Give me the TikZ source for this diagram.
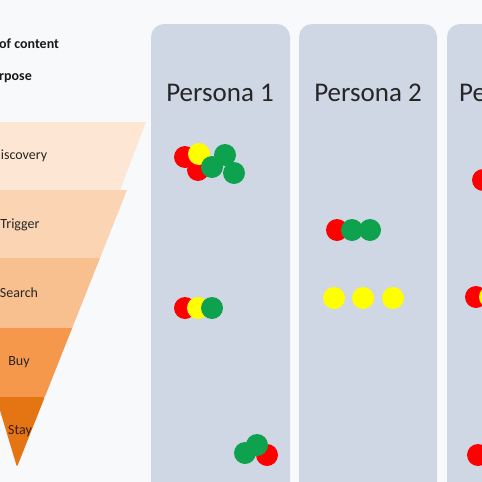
\documentclass[tikz,border=0pt]{standalone}
\usepackage{fontspec}
\setmainfont{Carlito}
\usetikzlibrary{positioning}
\definecolor{bg}{HTML}{F8F9FB}
\definecolor{lanefill}{HTML}{CFD7E4}
\definecolor{discovery}{HTML}{FDE6D3}
\definecolor{trigger}{HTML}{FBD4B3}
\definecolor{search}{HTML}{F9C08F}
\definecolor{buy}{HTML}{F6984C}
\definecolor{stay}{HTML}{E57412}
\definecolor{dotred}{HTML}{FF0000}
\definecolor{dotyellow}{HTML}{FFFF00}
\definecolor{dotgreen}{HTML}{0EA24F}
\tikzset{
    lane/.style={fill=lanefill, rounded corners=13pt},
    persona/.style={font=\fontsize{27}{31}\selectfont, text=black!85, inner sep=0pt},
    stage/.style={font=\fontsize{14}{16}\selectfont, text=black!85, inner sep=0pt},
    legend/.style={font=\bfseries\fontsize{14}{16}\selectfont, text=black!90, inner sep=0pt, anchor=west},
    dot/.style={circle, inner sep=0pt, minimum size=22pt},
    reddot/.style={dot, fill=dotred},
    yellowdot/.style={dot, fill=dotyellow},
    greendot/.style={dot, fill=dotgreen}
}

\begin{document}
\begin{tikzpicture}[x=1pt, y=-1pt]
    \useasboundingbox (0,0) rectangle (482,482);
    \clip (0,0) rectangle (482,482);
    \fill[bg] (0,0) rectangle (482,482);

    % persona lanes
    \fill[lane] (151,24) rectangle (290,520);
    \fill[lane] (299,24) rectangle (437,520);
    \fill[lane] (447,24) rectangle (600,520);

    % funnel
    \fill[discovery] (-10,122) -- (146,122) -- (120,190) -- (-10,190) -- cycle;
    \fill[trigger] (-10,190) -- (127,190) -- (100,258) -- (-10,258) -- cycle;
    \fill[search] (-10,258) -- (100,258) -- (72.2,328) -- (-10,328) -- cycle;
    \fill[buy] (-25,328) -- (72.2,328) -- (44.8,397) -- (-4,397) -- cycle;
    \fill[stay, rounded corners=2pt] (-4,397) -- (44.8,397) -- (17,467) -- cycle;

    \node[legend] (type) at (-1,44) {of content};
    \node[legend] (purpose) at (-1,78) {rpose};

    \node[stage] (disc) at (24,156) {iscovery};
    \node[stage] (trig) at (20,225) {Trigger};
    \node[stage] (sear) at (19,293) {Search};
    \node[stage] (buy) at (19,362) {Buy};
    \node[stage, text=black!75!stay] (stay) at (20,431) {Stay};

    \node[persona] (p1) at (220,93) {Persona 1};
    \node[persona] (p2) at (368,93) {Persona 2};
    \node[persona, anchor=west] (p3) at (459,93) {Pe};

    % persona 1
    \node[reddot] (p1d1) at (185,157) {};
    \node[reddot] (p1d2) at (198,170) {};
    \node[yellowdot] (p1d3) at (199,154) {};
    \node[greendot] (p1d4) at (225,155) {};
    \node[greendot] (p1d5) at (212,167) {};
    \node[greendot] (p1d6) at (234,173) {};

    \node[reddot] (p1s1) at (185,308) {};
    \node[yellowdot] (p1s2) at (198,308) {};
    \node[greendot] (p1s3) at (212,308) {};

    \node[reddot] (p1y1) at (267,455) {};
    \node[greendot] (p1y2) at (245,453) {};
    \node[greendot] (p1y3) at (257,445) {};

    % persona 2
    \node[reddot] (p2t1) at (337,230) {};
    \node[greendot] (p2t2) at (352,230) {};
    \node[greendot] (p2t3) at (370,230) {};

    \node[yellowdot] (p2s1) at (334,298) {};
    \node[yellowdot] (p2s2) at (363,298) {};
    \node[yellowdot] (p2s3) at (393,298) {};

    % persona 3
    \node[reddot] (p3d1) at (483,180) {};
    \node[reddot] (p3s1) at (476,297) {};
    \node[yellowdot] (p3s2) at (490,297) {};
    \node[reddot] (p3y1) at (478,455) {};
\end{tikzpicture}
\end{document}
